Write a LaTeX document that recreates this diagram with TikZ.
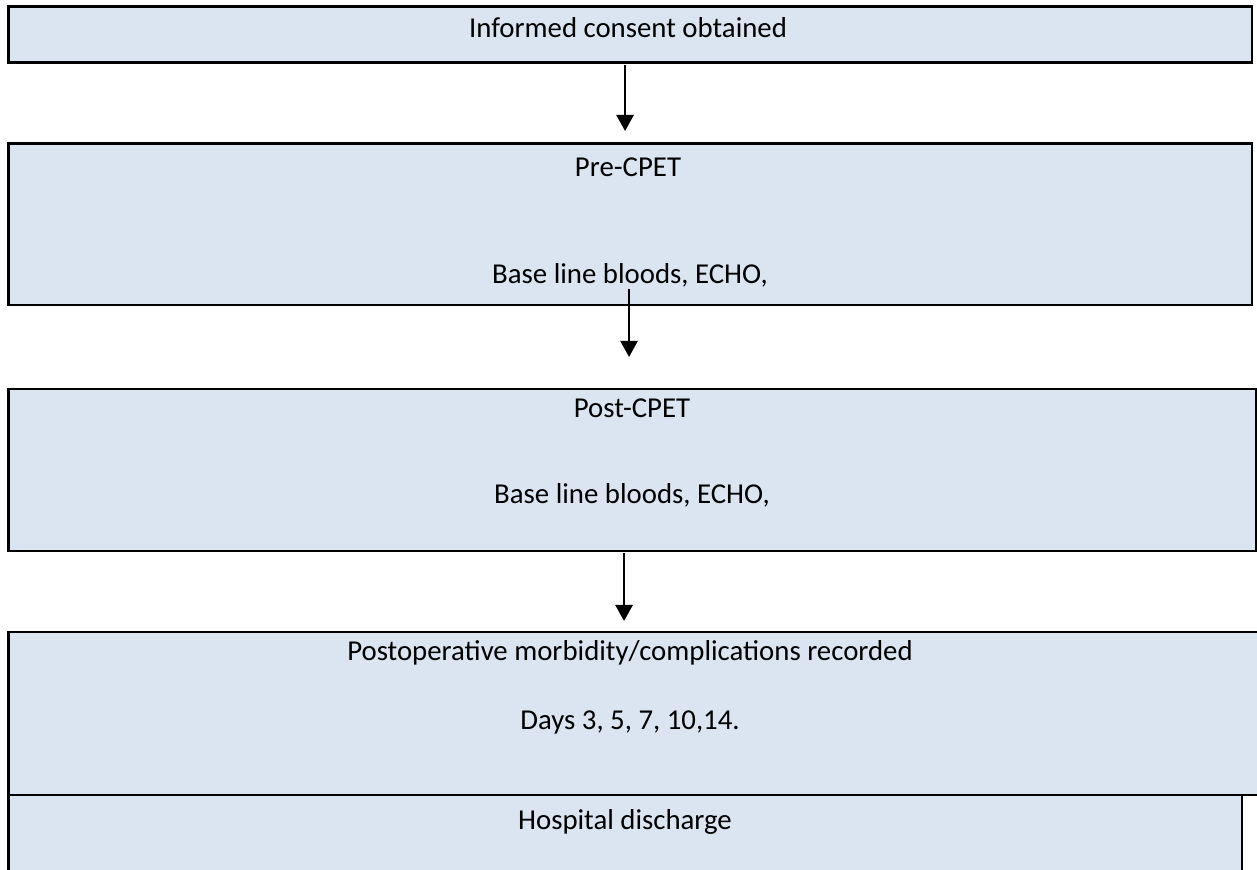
\documentclass[tikz,border=0pt]{standalone}
\usepackage{fontspec}
\setmainfont{Carlito}
\usetikzlibrary{arrows.meta,positioning,calc}
\definecolor{ink}{HTML}{000000}
\definecolor{boxfill}{HTML}{DBE5F1}
\tikzset{
  stagebox/.style={draw=ink,fill=boxfill,line width=1.2pt,
                   inner sep=0pt,outer sep=0pt},
  stagetext/.style={font=\fontsize{14.4}{17}\selectfont,inner sep=0pt,text=ink},
  flowarr/.style={-{Triangle[length=8pt,width=8.5pt]},line width=1.3pt,color=ink}
}

\begin{document}
\begin{tikzpicture}[x=0.5pt,y=-0.5pt]
  \useasboundingbox (0,0) rectangle (1257,870);
  % boxes
  \node[stagebox,minimum width=621.75pt,minimum height=28pt] (consent) at (630.25,34.5) {};
  \node[stagebox,minimum width=621.75pt,minimum height=80.75pt] (precpet) at (630.25,224.25) {};
  \node[stagebox,minimum width=623.75pt,minimum height=81pt] (postcpet) at (632.25,470) {};
  \node[stagebox,minimum width=626.75pt,minimum height=81.5pt] (outcome) at (635.25,713.5) {};
  \node[stagebox,minimum width=616.75pt,minimum height=45pt] (discharge) at (625.25,840) {};
  % texts
  \node[stagetext] (consenttxt) at (628,28) {Informed consent obtained};
  \node[stagetext] (pretitle) at (628,167) {Pre-CPET};
  \node[stagetext] (prebloods) at (630,275) {Base line bloods, ECHO,};
  \node[stagetext] (posttitle) at (632,408) {Post-CPET};
  \node[stagetext] (postbloods) at (632,495) {Base line bloods, ECHO,};
  \node[stagetext] (outtitle) at (630,653) {Postoperative morbidity/complications recorded};
  \node[stagetext] (outdays) at (630,722) {Days 3, 5, 7, 10,14.};
  \node[stagetext] (dischargetxt) at (625,822) {Hospital discharge};
  % arrows
  \draw[flowarr,shorten <=1.25pt,shorten >=6.25pt]
    ([xshift=-2.6pt]consent.south) -- ([xshift=-2.6pt]precpet.north);
  \draw[flowarr,shorten >=16pt]
    ([xshift=-0.6pt,yshift=8pt]precpet.south) -- ([xshift=-1.6pt]postcpet.north);
  \draw[flowarr,shorten <=1pt,shorten >=5.5pt]
    ([xshift=-4.1pt]postcpet.south) -- ([xshift=-5.6pt]outcome.north);
\end{tikzpicture}
\end{document}
